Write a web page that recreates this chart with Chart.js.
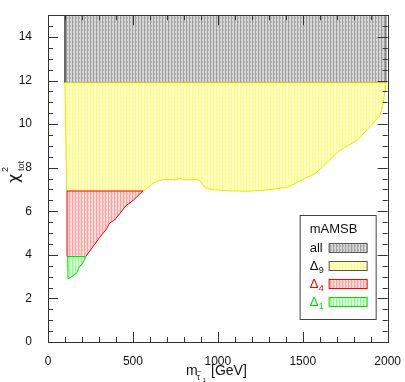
<html lang="en">
<head>
<meta charset="UTF-8" />
<title>chi2 tot vs stau mass</title>
<style>
  body { margin: 0; background: #fff; }
</style>
</head>
<body>
<canvas id="myChart" width="405" height="382"></canvas>
<script src="https://cdn.jsdelivr.net/npm/chart.js@4.4.0/dist/chart.umd.min.js"></script>
<script>
// values: x = m_stau1 [GeV], y = chi2_tot
var xTicks = [0, 500, 1000, 1500, 2000];
var yTicks = [0, 2, 4, 6, 8, 10, 12, 14];

var allX = [100, 1990, 1990, 100];
var allY = [11.9, 11.9, 15, 15];

var d9X = [100, 1990, 1971, 1951, 1824, 1716, 1578, 1412, 1304, 1186, 1088, 970, 927, 892, 873, 814, 774, 755, 686, 637, 559, 110];
var d9Y = [11.9, 11.9, 10.8, 10.36, 9.28, 8.78, 7.76, 7.11, 6.99, 6.92, 6.93, 6.99, 7.07, 7.41, 7.47, 7.44, 7.5, 7.44, 7.47, 7.37, 6.93, 6.93];

var d4X = [112, 559, 500, 461, 392, 363, 343, 304, 222, 112];
var d4Y = [6.93, 6.93, 6.49, 6.27, 5.6, 5.46, 5.17, 4.8, 3.92, 3.92];

var d1X = [116, 222, 202, 186, 167, 118];
var d1Y = [3.92, 3.92, 3.58, 3.47, 3.15, 2.89];

var FONT = '"Liberation Sans", Arial, Helvetica, sans-serif';

function poly(xs, ys) {
  var pts = xs.map(function (x, i) { return { x: x, y: ys[i] }; });
  pts.push(pts[0]);
  return pts;
}

function stripes(bg, fg, mid) {
  var cv = document.createElement('canvas');
  cv.width = 3; cv.height = 4;
  var g = cv.getContext('2d');
  g.fillStyle = bg; g.fillRect(0, 0, 3, 4);
  g.fillStyle = fg; g.fillRect(0, 0, 1, 4);
  g.fillStyle = mid; g.fillRect(1, 1, 1, 2);
  return g.createPattern(cv, 'repeat');
}

var patAll = stripes('#d8d8d8', '#a0a0a0', '#b8b8b8');
var patD9 = stripes('#ffffd6', '#ffff78', '#ffffa8');
var patD4 = stripes('#ffdede', '#ffa0a0', '#ffc0c0');
var patD1 = stripes('#deffde', '#90ff90', '#c0ffc0');

function region(label, xs, ys, pat, line) {
  return {
    label: label, data: poly(xs, ys), showLine: true, fill: 'shape',
    backgroundColor: pat, borderColor: line, borderWidth: 1,
    pointRadius: 0, tension: 0, clip: 0
  };
}

var frame = {
  id: 'frame',
  afterDatasetsDraw: function (chart) {
    var c = chart.ctx, a = chart.chartArea, xs = chart.scales.x, ys = chart.scales.y;
    c.save();
    c.strokeStyle = '#333';
    c.lineWidth = 1;
    c.beginPath();
    for (var i = 0; i <= 20; i++) {
      var px = Math.round(xs.getPixelForValue(i * 100)) + 0.5;
      var len = i % 5 === 0 ? 10 : 5;
      c.moveTo(px, a.bottom); c.lineTo(px, a.bottom - len);
      c.moveTo(px, a.top); c.lineTo(px, a.top + len);
    }
    for (var j = 0; j <= 30; j++) {
      var py = Math.round(ys.getPixelForValue(j * 0.5)) + 0.5;
      var l2 = j % 4 === 0 ? 10 : 5;
      c.moveTo(a.left, py); c.lineTo(a.left + l2, py);
      c.moveTo(a.right, py); c.lineTo(a.right - l2, py);
    }
    c.stroke();
    c.strokeRect(Math.round(a.left) + 0.5, Math.round(a.top) + 0.5,
      Math.round(a.right - a.left), Math.round(a.bottom - a.top));
    c.restore();
  },
  afterDraw: function (chart) {
    var c = chart.ctx, a = chart.chartArea;
    c.save();
    c.fillStyle = '#111';
    c.textBaseline = 'alphabetic';

    // x title: m_{stau1} [GeV]
    c.font = '14px ' + FONT;
    c.textAlign = 'left';
    c.fillText('m', 186, 375);
    c.font = '9px ' + FONT;
    c.fillText('\u03c4', 196.5, 380);
    c.font = '7px ' + FONT;
    c.fillText('~', 197, 374);
    c.font = '6px ' + FONT;
    c.fillText('1', 202.5, 382);
    c.font = '14px ' + FONT;
    c.fillText('[GeV]', 211, 375);

    // y title: chi^2_tot
    c.translate(19, 183);
    c.rotate(-Math.PI / 2);
    c.font = '16px "DejaVu Sans", sans-serif';
    c.fillText('\u03c7', 0, 0);
    c.font = '9px ' + FONT;
    c.fillText('tot', 12, 5);
    c.fillText('2', 11, -11);
    c.restore();

    // legend box
    var L = a.right - 88, T = a.bottom - 127;
    c.save();
    c.fillStyle = '#fff';
    c.fillRect(L, T, 76, 104);
    c.strokeStyle = '#444';
    c.lineWidth = 1;
    c.strokeRect(L + 0.5, T + 0.5, 76, 104);
    c.font = '13px ' + FONT;
    c.fillStyle = '#111';
    c.fillText('mAMSB', L + 10, T + 18);

    var rows = [
      { name: 'all', sub: '', col: '#111', pat: patAll, edge: '#555' },
      { name: '\u0394', sub: '9', col: '#111', pat: patD9, edge: '#555' },
      { name: '\u0394', sub: '4', col: '#ff0000', pat: patD4, edge: '#ff0000' },
      { name: '\u0394', sub: '1', col: '#00e000', pat: patD1, edge: '#00e000' }
    ];
    rows.forEach(function (r, k) {
      var top = T + 28 + k * 18;
      c.fillStyle = r.col;
      c.font = '13px ' + FONT;
      c.fillText(r.name, L + 10, top + 9);
      if (r.sub) {
        c.font = '9px ' + FONT;
        c.fillText(r.sub, L + 19, top + 12);
      }
      c.fillStyle = r.pat;
      c.fillRect(L + 29, top, 38, 9);
      c.strokeStyle = r.edge;
      c.strokeRect(L + 29.5, top + 0.5, 38, 9);
    });
    c.restore();
  }
};

var ctx = document.getElementById('myChart').getContext('2d');
var myChart = new Chart(ctx, {
  type: 'scatter',
  data: {
    datasets: [
      region('\u03941', d1X, d1Y, patD1, '#00e000'),
      region('\u03944', d4X, d4Y, patD4, '#ff0000'),
      region('\u03949', d9X, d9Y, patD9, '#e6e600'),
      region('all', allX, allY, patAll, '#555')
    ]
  },
  options: {
    responsive: false,
    animation: false,
    layout: { padding: { top: 1, right: 16, left: 0, bottom: 0 } },
    plugins: { legend: { display: false }, tooltip: { enabled: false } },
    scales: {
      x: {
        type: 'linear', min: 0, max: 2000,
        grid: { display: false }, border: { display: false },
        afterBuildTicks: function (s) { s.ticks = xTicks.map(function (v) { return { value: v }; }); },
        afterFit: function (s) { s.height = 40; },
        ticks: { padding: 4, maxRotation: 0, color: '#111', font: { family: FONT, size: 12 },
                 callback: function (v) { return String(v); } }
      },
      y: {
        type: 'linear', min: 0, max: 15,
        grid: { display: false }, border: { display: false },
        afterBuildTicks: function (s) { s.ticks = yTicks.map(function (v) { return { value: v }; }); },
        afterFit: function (s) { s.width = 48; },
        ticks: { padding: 8, color: '#111', font: { family: FONT, size: 12 },
                 callback: function (v) { return String(v); } }
      }
    }
  },
  plugins: [frame]
});
</script>
</body>
</html>
